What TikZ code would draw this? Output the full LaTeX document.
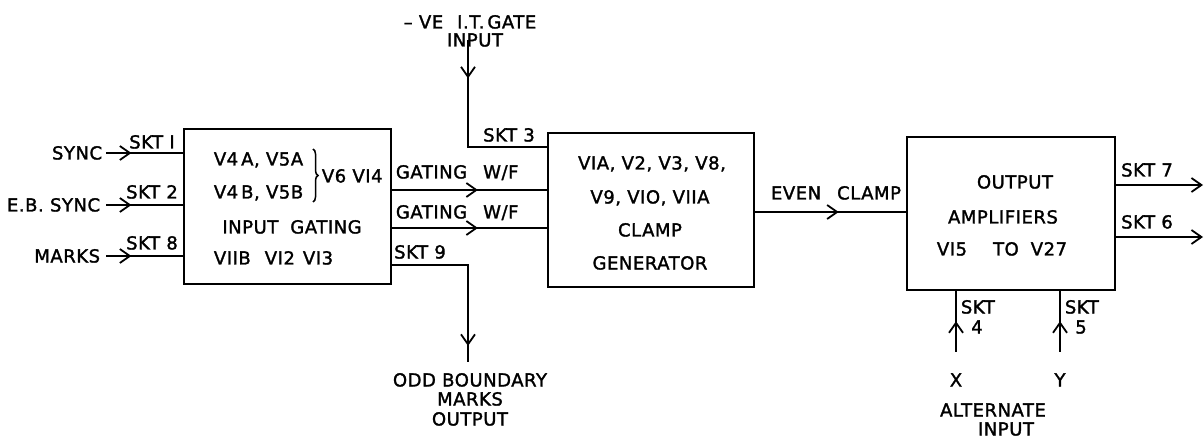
\documentclass[tikz,border=0pt]{standalone}
\usepackage{fontspec}
\setmainfont[LetterSpace=3,FakeBold=1.6]{DejaVu Sans}
\usetikzlibrary{arrows.meta,decorations.markings,decorations.pathreplacing}
\begin{document}
\begin{tikzpicture}[x=1pt,y=-1pt,line width=1.8pt,
  >={Straight Barb[length=10pt,width=14pt]},
  lbl/.style={font=\fontsize{18}{22}\selectfont,inner sep=0pt,text height=13pt,text depth=0pt},
  blk/.style={draw,line width=1.9pt,inner sep=0pt,anchor=north west},
  midarr/.style={postaction={decorate},decoration={markings,mark=at position #1 with {\arrow{>}}}}]
\useasboundingbox (0,0) rectangle (1204,438);

% blocks
\node[blk,minimum width=207pt,minimum height=155pt] (b1) at (183,128) {};
\node[blk,minimum width=206pt,minimum height=154pt] (b2) at (547,132) {};
\node[blk,minimum width=208pt,minimum height=153pt] (b3) at (906,136) {};

% block 1 text
\node[lbl,anchor=west] (t1a) at (213,159) {V4\,A, V5A};
\node[lbl,anchor=west] (t1b) at (213,192) {V4\,B, V5B};
\draw[line width=1.5pt,decorate,decoration={brace,amplitude=5pt}] (313,149) -- (313,202);
\node[lbl,anchor=west] (t1c) at (321,176) {V6 VI4};
\node[lbl] (t1d) at (292,227) {INPUT\hspace{12pt}GATING};
\node[lbl,anchor=west] (t1e) at (213,258) {VIIB\hspace{14pt}VI2\hspace{8pt}VI3};

% block 2 text
\node[lbl] (t2a) at (652,163) {VIA, V2, V3, V8,};
\node[lbl] (t2b) at (650,197) {V9, VIO, VIIA};
\node[lbl] (t2c) at (650,230) {CLAMP};
\node[lbl] (t2d) at (650,263) {GENERATOR};

% block 3 text
\node[lbl] (t3a) at (1015,182) {OUTPUT};
\node[lbl] (t3b) at (1003,217) {AMPLIFIERS};
\node[lbl] (t3c) at (1002,249) {VI5\hspace{26pt}TO\hspace{12pt}V27};

% left inputs
\node[lbl,anchor=east] (sync) at (103,153) {SYNC};
\node[lbl,anchor=east] (ebsync) at (101,205) {E.B. SYNC};
\node[lbl,anchor=east] (marks) at (101,256) {MARKS};
\draw[midarr=0.33] ([xshift=3pt]sync.east) -- (b1.west |- sync);
\draw[midarr=0.33] ([xshift=5pt]ebsync.east) -- (b1.west |- ebsync);
\draw[midarr=0.33] ([xshift=5pt]marks.east) -- (b1.west |- marks);
\node[lbl] (s1) at (152,142) {SKT I};
\node[lbl] (s2) at (152,192) {SKT 2};
\node[lbl] (s8) at (152,243) {SKT 8};

% gating waveforms
\coordinate (g1) at (390,190);
\coordinate (g2) at (390,228);
\draw[midarr=0.56] (g1) -- (b2.west |- g1);
\draw[midarr=0.56] (g2) -- (b2.west |- g2);
\node[lbl,anchor=west] (gw1) at (395,172) {GATING\hspace{16pt}W/F};
\node[lbl,anchor=west] (gw2) at (395,212) {GATING\hspace{16pt}W/F};

% top input
\node[lbl] (it1) at (470,22) {-- VE\hspace{14pt}I.T.\,GATE};
\node[lbl] (it2) at (475,40) {INPUT};
\coordinate (c3) at (468,147);
\draw[midarr=38pt] (it2.south -| c3) ++(0,-7) -- (c3) -- (b2.west |- c3);
\node[lbl] (s3) at (509,135) {SKT 3};

% SKT 9 output
\coordinate (c9) at (468,265);
\node[lbl] (odd1) at (470,380) {ODD BOUNDARY};
\node[lbl] (odd2) at (470,399) {MARKS};
\node[lbl] (odd3) at (470,419) {OUTPUT};
\draw[midarr=157pt] (b1.east |- c9) -- (c9) -- ([yshift=11pt]odd1.north -| c9);
\node[lbl] (s9) at (420,252) {SKT 9};

% even clamp
\coordinate (ec) at (753,212);
\draw[midarr=0.56] (ec) -- (b3.west |- ec);
\node[lbl] (ecl) at (836,193) {EVEN\hspace{16pt}CLAMP};

% outputs
\coordinate (o7) at (1203,185);
\coordinate (o6) at (1203,237);
\draw[->] (b3.east |- o7) -- (o7);
\draw[->] (b3.east |- o6) -- (o6);
\node[lbl] (s7) at (1147,170) {SKT 7};
\node[lbl] (s6) at (1147,222) {SKT 6};

% bottom inputs
\node[lbl] (xin) at (956,380) {X};
\node[lbl] (yin) at (1060,380) {Y};
\draw[midarr=0.5] ([yshift=21pt]xin.north) -- (b3.south -| xin);
\draw[midarr=0.5] ([yshift=21pt]yin.north) -- (b3.south -| yin);
\node[lbl,anchor=west] (s4a) at (960,307) {SKT};
\node[lbl] (s4b) at (977,327) {4};
\node[lbl,anchor=west] (s5a) at (1064,307) {SKT};
\node[lbl] (s5b) at (1081,327) {5};
\node[lbl] (alt1) at (993,410) {ALTERNATE};
\node[lbl] (alt2) at (1006,429) {INPUT};
\end{tikzpicture}
\end{document}
